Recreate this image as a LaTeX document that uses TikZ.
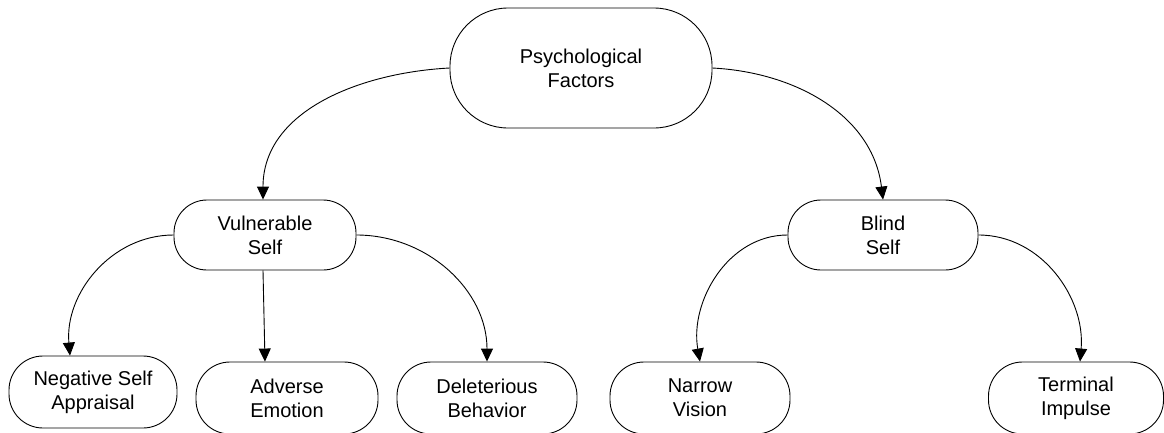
\documentclass[tikz,border=0pt]{standalone}
\usepackage{fontspec}
\setmainfont{Liberation Sans}
\usepackage{tikz}
\usetikzlibrary{arrows.meta,calc,positioning}
\tikzstyle{pill}=[draw, black, rectangle, align=center, line width=0.9pt,
  font=\fontsize{20}{24}\selectfont, inner sep=0pt]
\tikzstyle{link}=[line width=0.9pt, -{Triangle[length=13pt,width=12pt]}]

\begin{document}
\begin{tikzpicture}[x=1pt, y=-1pt]
  \useasboundingbox (0,0) rectangle (1164,432);
  % top
  \node[pill, minimum width=262pt, minimum height=120pt, rounded corners=58pt]
    (pf) at (581,68) {Psychological\\Factors};
  % middle row
  \node[pill, minimum width=182pt, minimum height=70pt, rounded corners=33pt]
    (vs) at (265,235) {Vulnerable\\Self};
  \node[pill, minimum width=190pt, minimum height=70pt, rounded corners=33pt]
    (bs) at (883,235) {Blind\\Self};
  % bottom row
  \node[pill, minimum width=168pt, minimum height=72pt, rounded corners=34pt]
    (nsa) at (93,392) {Negative Self\\Appraisal};
  \node[pill, minimum width=182pt, minimum height=72pt, rounded corners=34pt]
    (ae) at (287,398) {Adverse\\Emotion};
  \node[pill, minimum width=180pt, minimum height=72pt, rounded corners=34pt]
    (db) at (487,398) {Deleterious\\Behavior};
  \node[pill, minimum width=180pt, minimum height=72pt, rounded corners=34pt]
    (nv) at (700,398) {Narrow\\Vision};
  \node[pill, minimum width=175pt, minimum height=72pt, rounded corners=34pt]
    (ti) at (1076,398) {Terminal\\Impulse};
  % lines
  \draw[link] (pf.west) to[out=183, in=90] ([xshift=-2pt]vs.north);
  \draw[link] (pf.east) to[out=-3, in=97] (bs.north);
  \draw[link] (vs.west) to[out=180, in=95] ([xshift=-23pt]nsa.north);
  \draw[link] ([xshift=-2pt]vs.south) -- ([xshift=-22pt]ae.north);
  \draw[link] (vs.east) to[out=0, in=90] (db.north);
  \draw[link] (bs.west) to[out=180, in=100] (nv.north);
  \draw[link] (bs.east) to[out=0, in=85] ([xshift=4pt]ti.north);
\end{tikzpicture}
\end{document}
